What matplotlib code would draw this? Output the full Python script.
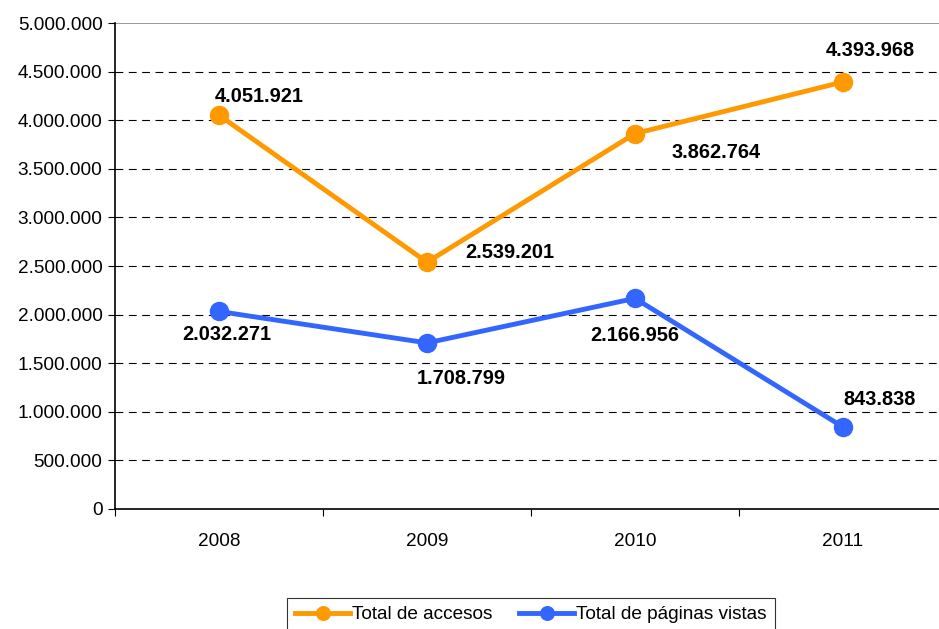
import matplotlib.pyplot as plt
import numpy as np

plt.rcParams["font.family"] = ["Liberation Sans", "DejaVu Sans"]
plt.rcParams["font.size"] = 13.7

years = ["2008", "2009", "2010", "2011"]
accesos = [4051921, 2539201, 3862764, 4393968]
paginas = [2032271, 1708799, 2166956, 843838]
yticks = [0, 500000, 1000000, 1500000, 2000000, 2500000, 3000000, 3500000,
          4000000, 4500000, 5000000]

# desplazamiento de las etiquetas (pixeles)
off_acc = [(40, 19), (83, 10), (81, -19), (27, 31)]
off_pag = [(8, -23), (34, -36), (0, -37), (37, 27)]


def fmt(v):
    return f"{v:,}".replace(",", ".")


fig = plt.figure(figsize=(9.39, 6.29), dpi=100)
ax = fig.add_axes([0.1225, 0.1908, 0.886, 0.7726])

x = np.arange(len(years)) + 0.5
ax.plot(x, accesos, color="#FF9900", linewidth=3.5, marker="o", markersize=13,
        label="Total de accesos", zorder=3)
ax.plot(x, paginas, color="#3366FF", linewidth=3.5, marker="o", markersize=13,
        label="Total de páginas vistas", zorder=3)

for xi, v, o in zip(x, accesos, off_acc):
    ax.annotate(fmt(v), (xi, v), xytext=o, textcoords="offset pixels",
                ha="center", va="center", fontweight="bold", fontsize=14.4)
for xi, v, o in zip(x, paginas, off_pag):
    ax.annotate(fmt(v), (xi, v), xytext=o, textcoords="offset pixels",
                ha="center", va="center", fontweight="bold", fontsize=14.4)

# rejilla
for t in yticks[1:-1]:
    ax.axhline(t, color="black", linewidth=0.8, linestyle=(0, (7, 5)), zorder=1)
ax.axhline(5000000, color="#888888", linewidth=1.2, zorder=1)

ax.set_xlim(0, 4)
ax.set_ylim(0, 5000000)
ax.set_yticks(yticks, [fmt(t) for t in yticks])
ax.set_xticks([0, 1, 2, 3, 4], [""] * 5)
ax.set_xticks(x, years, minor=True)
ax.tick_params(axis="x", which="major", length=5, width=0.8, direction="out")
ax.tick_params(axis="x", which="minor", length=0, pad=17)
ax.tick_params(axis="y", length=5, width=0.8, direction="out", pad=4)

for s in ["top", "right"]:
    ax.spines[s].set_visible(False)
ax.spines["left"].set_linewidth(1.2)
ax.spines["bottom"].set_linewidth(1.2)

leg = ax.legend(loc="upper center", bbox_to_anchor=(0.5655, 0.05),
                bbox_transform=fig.transFigure, ncol=2, frameon=True,
                fancybox=False, edgecolor="black", borderaxespad=0,
                handlelength=2.9, handletextpad=0.1, columnspacing=1.4,
                markerscale=0.75, borderpad=0.45)
leg.get_frame().set_linewidth(0.8)

fig.savefig("out.png", dpi=100)
